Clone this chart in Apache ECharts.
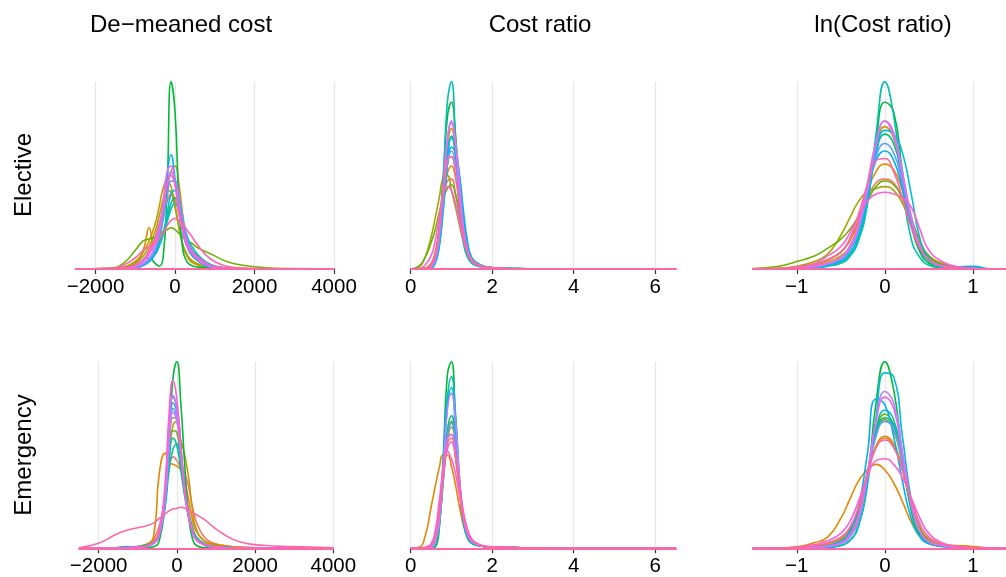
<!DOCTYPE html>
<html><head><meta charset="utf-8">
<script src="https://cdn.jsdelivr.net/npm/echarts@6/dist/echarts.min.js"></script>
<style>html,body{margin:0;padding:0;background:#fff}#c{width:1006px;height:577px}</style>
</head><body><div id="c"></div><script>
const groupNames = ['G1','G2','G3','G4','G5','G6','G7','G8','G9','G10','G11','G12','G13','G14','G15'];
const groupColors = ['#F8766D','#E58700','#C99800','#A3A500','#6BB100','#00BA38','#00BF7D','#00C0AF','#00BCD8','#00B0F6','#619CFF','#B983FF','#E76BF3','#FD61D1','#FF67A4'];
const colTitles = ['De\u2212meaned cost','Cost ratio','ln(Cost ratio)'];
const rowLabels = ['Elective','Emergency'];

const ticksDemean = [-2000, 0, 2000, 4000];
const ticksRatio = [0, 2, 4, 6];
const ticksLn = [-1, 0, 1];

const xDemeanElective = [-2500,-1600,-1300,-1000,-800,-650,-500,-400,-300,-200,-100,0,100,200,300,400,600,800,1000,1300,1700,2200,3000,4000];
const xDemeanEmergency = [-2500,-2000,-1600,-1300,-1000,-800,-600,-450,-300,-200,-100,0,100,200,300,400,500,700,900,1200,1600,2200,3000,4000];
const xRatio = [0,0.2,0.35,0.5,0.6,0.7,0.8,0.9,1.0,1.1,1.2,1.3,1.4,1.5,1.65,1.8,2.0,2.3,2.7,3.2,4,5,6.5];
const xLn = [-1.5,-1.2,-1.0,-0.8,-0.65,-0.5,-0.4,-0.3,-0.2,-0.1,0,0.1,0.2,0.3,0.4,0.5,0.65,0.8,1.0,1.2,1.37];

// relative density heights (percent of panel height), one row per group
const electiveDemean = [
 [0,0,0.5,2,5,10,17,24,30,36,40,37,29,20,14,10,5,2.5,1.2,0.4,0.1,0,0,0],
 [0,0,0.5,3,10,22,8,13,28,42,52,55,45,28,14,8,4,2,1.2,0.5,0.2,0,0,0],
 [0,0,1,4,9,15,24,33,43,47,44,34,22,12,7,4,2,1,0.5,0.2,0,0,0,0],
 [0,0,1,3,7,12,20,28,37,42,41,33,22,13,8,5,2.5,1.2,0.6,0.3,0.1,0,0,0],
 [0,0.5,3,10,15,16,17,18,20,21,22,21,19,17,15,14,11,9,7,4,2,0.8,0.2,0],
 [0,0,0,1,5,6,3,1.5,6,42,100,84,35,10,4,2,1,0.5,0.3,0.1,0,0,0,0],
 [0,0,0,1,2.5,5,9,14,19,27,35,38,33,24,16,11,6,3,1.5,0.5,0.1,0,0,0],
 [0,0,0,1,2.5,4,8,12,18,25,32,35,32,25,18,13,7,3.5,1.6,0.6,0.1,0,0,0],
 [0,0,0,0.5,2,4,8,13,19,29,40,42,36,25,15,10,5,2,0.8,0.3,0,0,0,0],
 [0,0,0,0.5,2,4,9,17,31,50,61,48,33,19,12,8,4,1.5,0.6,0.2,0.1,0,0,0],
 [0,0,0,0.5,2.5,5,10,17,26,38,47,47,39,27,17,11,5.5,2.5,1,0.4,0.1,0,0,0],
 [0,0,0,1,3,6,12,20,31,45,52,46,33,21,13,9,4.5,2,0.8,0.3,0.1,0,0,0],
 [0,0,0.5,1.5,4,8,14,22,35,52,55,45,30,19,12,9,5,2.5,1,0.3,0.1,0,0,0],
 [0,0,0.5,2,5,9,16,23,33,45,50,45,33,22,14,10,6,3,1.4,0.5,0.1,0,0,0],
 [0,0.5,2,6,10,12,14,16,19,23,26,27,26,24,21,18,12,7,4,1.5,0.5,0.2,0.1,0]
];
const emergencyDemean = [
 [0,0,0,0.3,1,2,5,12,28,42,49,47,43,40,33,22,14,6,3,1.5,0.5,0.2,0,0],
 [0,0,0,0.3,0.5,1,6,40,51,46,45,44,42,36,26,15,9,4,2.5,1.5,0.5,0.2,0.1,0],
 [0,0,0,0.3,1,2,4,9,25,48,66,68,58,50,38,20,10,4,2,1,0.5,0.2,0,0],
 [0,0,0,0.2,0.5,1.5,3,8,25,52,70,70,52,32,18,10,5,2,1,0.5,0.2,0,0,0],
 [0,0,0,0.2,0.5,1.5,3,8,24,48,63,62,48,32,19,11,6,2.5,1.2,0.6,0.2,0,0,0],
 [0,0,0,0,0,0.2,0.8,4,25,58,91,100,78,45,17,5,1.5,0.4,0.1,0,0,0,0,0],
 [0,0,0,0.5,1,1.5,3,8,26,48,59,55,42,28,17,10,5,2,1,0.5,0.2,0,0,0],
 [0,0,0.2,1,0.5,1,3,7,22,42,53,56,46,32,19,11,6,2.5,1.2,0.5,0.2,0,0,0],
 [0,0,0,0.5,0.5,1,2.5,7,26,56,78,73,52,32,18,10,5,2,1,0.4,0.1,0,0,0],
 [0,0,0,0.3,0.5,1,2.5,7,28,60,81,76,55,32,17,9,4.5,1.8,0.8,0.3,0.1,0,0,0],
 [0,0,0,0.3,0.5,1,2.5,7,26,55,75,70,52,32,18,10,5,2,1,0.4,0.1,0,0,0],
 [0,0,0,0.3,0.5,1,2.5,7,26,54,73,68,50,31,17,9,4.5,1.8,0.8,0.3,0.1,0,0,0],
 [0,0,0,0.3,0.5,1,3,8,32,66,82,74,52,31,17,9,4.5,2,0.9,0.3,0.1,0,0,0],
 [0,0,0,0.3,0.5,1,3,9,35,72,90,80,55,32,17,9,4.5,2,1,0.4,0.1,0,0,0],
 [0.3,2.7,7,9.5,11,12,13.5,16,18.5,20,21,21.5,22,21.5,20.5,19,18,15.5,12,7.5,3.5,1.6,0.9,0.3]
];
const electiveRatio = [
 [0,0,0.5,3,9,22,38,47,48,40,28,16,8,4,2,1,0.6,0.3,0.1,0,0,0,0],
 [0,0,0.3,2,8,20,38,51,55,49,35,20,10,5,2.5,1.3,0.7,0.3,0.1,0,0,0,0],
 [0,0,0.5,2,7,20,42,65,75,64,42,22,11,6,3,1.5,0.8,0.4,0.2,0.1,0,0,0],
 [0,1,6,17,27,38,49,50,42,33,23,14,8,4,2,1,0.6,0.3,0.1,0,0,0,0],
 [0,1.5,6,14,21,30,38,43,45,40,30,18,10,5,2.5,1.2,0.7,0.3,0.2,0,0,0,0],
 [0,0,0,1,5,22,50,81,89,72,40,18,8,4,2,1,0.6,0.3,0.1,0,0,0,0],
 [0,0,0,1,5,20,42,62,71,60,38,19,9,4.5,2,1,0.6,0.3,0.1,0,0,0,0],
 [0,0,0,0.5,4,20,48,89,100,68,32,13,6,3,1.5,1,0.5,0.3,0.1,0,0,0,0],
 [0,0,0,0.5,3,12,32,56,70,66,48,26,12,5,2.5,1.2,0.6,0.4,0.2,0.1,0.1,0,0],
 [0,0,0,0.5,3,12,32,55,65,62,50,30,14,6,3,1.5,0.8,0.5,0.2,0.1,0.1,0,0],
 [0,0,0,1,4,15,36,56,63,56,38,20,9,4.5,2.2,1.1,0.6,0.3,0.1,0,0,0,0],
 [0,0,0,1,5,18,42,68,79,68,45,22,10,5,2.5,1.2,0.6,0.3,0.1,0,0,0,0],
 [0,0,0,1.5,6,20,45,70,78,66,42,20,9,4.5,2.2,1.1,0.6,0.3,0.1,0,0,0,0],
 [0,0.3,2,7,15,28,40,44,42,35,25,15,8,4,2,1,0.6,0.3,0.1,0,0,0,0],
 [0,0,0.3,2,7,21,42,58,60,50,33,18,9,4.5,2.2,1.1,0.6,0.3,0.1,0,0,0,0]
];
const emergencyRatio = [
 [0,0,0.3,1,5,18,40,56,59,50,32,16,8,4,2,1.1,0.7,0.5,0.3,0.1,0,0,0],
 [0,0.5,6,22,33,43,50,50,44,34,22,12,6,3,1.5,1,0.7,0.5,0.3,0.1,0,0,0],
 [0,0,0.3,1.5,6,20,44,61,61,48,30,15,7,3.5,1.8,1,0.6,0.5,0.3,0.1,0,0,0],
 [0,0,0,0.5,3,14,38,58,65,56,34,16,7,3.5,1.8,1,0.6,0.5,0.3,0.1,0,0,0],
 [0,0,0,0.5,3,13,36,60,68,58,34,15,7,3.5,1.8,1,0.6,0.5,0.3,0.1,0,0,0],
 [0,0,0,0,0.5,10,48,93,100,68,32,13,5,2.5,1.5,1,0.6,0.5,0.3,0.1,0,0,0],
 [0,0,0,0.5,3,14,38,63,71,60,34,15,7,3.5,1.8,1,0.6,0.5,0.3,0.1,0,0,0],
 [0,0,0,0.3,2,12,42,80,92,72,35,14,6,3,1.5,1,0.6,0.5,0.3,0.1,0,0,0],
 [0,0,0,0.3,2,12,42,76,86,70,36,15,6,3,1.6,1,0.6,0.5,0.3,0.1,0,0,0],
 [0,0,0,0.5,3,16,48,80,83,62,32,14,6,3,1.5,1,0.6,0.5,0.3,0.1,0,0,0],
 [0,0,0,0.5,3,14,37,59,67,58,35,16,7,3.5,1.8,1,0.6,0.5,0.3,0.1,0,0,0],
 [0,0,0,0.5,3,14,42,74,83,68,38,16,7,3.5,1.8,1,0.6,0.5,0.3,0.1,0,0,0],
 [0,0,0.3,1.5,6,20,44,58,61,50,32,16,8,4,2,1.1,0.7,0.5,0.3,0.1,0,0,0],
 [0,0,0.5,2.5,9,25,43,52,48,40,28,16,8,4,2,1.1,0.7,0.5,0.3,0.1,0,0,0],
 [0,0,0.3,1.5,6,18,38,53,57,49,34,19,10,5,2.5,1.3,0.8,0.5,0.3,0.1,0,0,0]
];
const electiveLn = [
 [0,0.2,0.8,2.5,5,9,15,25,37,46,48,46,37,24,13,6,2.5,1,0.3,0,0],
 [0,0.2,0.8,2.5,5,9,15,26,41,52,56,53,42,27,14,7,3,1.2,0.3,0.1,0],
 [0,0.2,0.8,2,4,7,12,24,44,65,76,70,50,28,13,6,2,0.8,0.2,0,0],
 [0,0.3,1.5,4,8,18,27,36,41,43,44,42,35,24,13,6,2.5,1,0.3,0,0],
 [0.3,1.5,4,7,11,16,21,28,36,44,47,45,38,27,15,7,2.5,1,0.3,0,0],
 [0,0,0.2,0.8,2,4,8,17,36,68,89,84,52,24,9,3,1,0.4,0.1,0,0],
 [0,0,0.2,1,2,4,8,18,38,62,72,67,48,26,11,4,1.2,0.5,0.1,0,0],
 [0,0,0,0.3,1.5,3,6.6,15,34,72,100,82,44,16,6,2,0.5,0.2,0,0,0],
 [0,0,0.2,0.8,2,4,8,16,35,62,74,72,62,40,16,6,2,1,0.5,0,0],
 [0,0,0.3,1,2.5,5,10,20,40,58,63,58,43,25,11,5,1.5,1,1.5,0.1,0],
 [0,0,0.3,1,2.5,5,10,20,40,60,67,62,46,26,12,5,1.5,0.5,0.1,0,0],
 [0,0,0.3,1.5,3,6,11,22,42,66,79,73,52,28,12,5,1.5,0.6,0.2,0,0],
 [0,0,0.4,1.5,3,6,12,24,45,68,79,71,50,27,12,5,1.5,0.6,0.2,0,0],
 [0,0.2,1,3,7,12,19,28,36,40,41,40,38,33,21,10,4,1.5,0.3,0,0],
 [0,0.2,0.8,2.5,5,9,16,29,45,58,59,52,38,22,11,5,1.8,0.7,0.2,0,0]
];
const emergencyLn = [
 [0,0.1,0.4,1,2.5,5,10,20,38,54,59,55,42,24,11,5,2,0.9,0.3,0,0],
 [0,0.2,0.8,3,6,16,26,36,42,45,42,35,25,14,7,3.5,2,1.5,1,0.2,0],
 [0,0.1,0.4,1.2,2.5,5,10,21,40,55,60,56,42,23,11,4.5,1.8,0.8,0.3,0,0],
 [0,0,0.2,0.6,1.5,3.5,8,18,40,61,69,63,45,23,10,4,1.5,0.6,0.2,0,0],
 [0,0,0.2,0.6,1.5,3.5,8,18,40,63,72,66,46,23,10,4,1.5,0.6,0.2,0,0],
 [0,0,0,0.2,0.5,1.5,4,12,35,78,100,85,50,20,7,2.5,1,0.5,0.2,0,0],
 [0,0,0.1,0.4,1.2,3,7,16,38,62,70,66,47,23,9,3.5,1.5,0.6,0.2,0,0],
 [0,0,0.1,0.3,1,2.5,6,15,38,64,74,69,48,23,9,3,1.2,0.5,0.2,0,0],
 [0,0,0,0.2,0.5,1.5,4,12,33,70,94,92,60,26,9,3,1.2,0.6,0.2,0,0],
 [0,0,0.2,0.5,1.5,4,9,22,50,80,77,60,36,16,6,2.5,1,0.5,0.2,0,0],
 [0,0,0.1,0.4,1.2,3,7,16,38,60,68,64,46,23,9,3.5,1.5,0.6,0.2,0,0],
 [0,0,0.2,0.5,1,2.5,6,15,38,68,84,78,52,24,9,3.5,1.5,0.6,0.2,0,0],
 [0,0,0.2,0.5,1.2,3,7,17,40,68,81,75,50,24,9,3.5,1.5,0.6,0.2,0,0],
 [0,0.2,0.6,2,4,8,14,25,38,47,48,45,38,27,16,8,3,1.2,0.4,0,0],
 [0,0.1,0.5,1.5,3,6,11,22,40,54,58,54,42,26,13,6,2.5,1,0.3,0,0]
];

const FONT = '"Liberation Sans", Arial, Helvetica, sans-serif';
const panels = [
  {grid:{left:75, top:81.7, width:260, height:187.3}, min:-2516, max:4025, x:xDemeanElective, y:electiveDemean, ticks:ticksDemean},
  {grid:{left:410.7, top:81.7, width:266, height:187.3}, min:0, max:6.53, x:xRatio, y:electiveRatio, ticks:ticksRatio},
  {grid:{left:752.3, top:81.7, width:253.7, height:187.3}, min:-1.505, max:1.376, x:xLn, y:electiveLn, ticks:ticksLn},
  {grid:{left:78.3, top:361.7, width:255.7, height:186.6}, min:-2520, max:4017, x:xDemeanEmergency, y:emergencyDemean, ticks:ticksDemean},
  {grid:{left:410.7, top:361.7, width:266, height:186.6}, min:0, max:6.53, x:xRatio, y:emergencyRatio, ticks:ticksRatio},
  {grid:{left:752.3, top:361.7, width:253.7, height:186.6}, min:-1.505, max:1.376, x:xLn, y:emergencyLn, ticks:ticksLn}
];

const grids = [], xAxes = [], yAxes = [], series = [];
panels.forEach((p, pi) => {
  grids.push(Object.assign({containLabel:false, outerBoundsMode:'none'}, p.grid));
  xAxes.push({
    type:'value', gridIndex:pi, min:p.min, max:p.max,
    axisLine:{show:false},
    axisTick:{show:true, length:5, customValues:p.ticks, lineStyle:{color:'#333', width:1.2}},
    axisLabel:{customValues:p.ticks, fontSize:20.5, color:'#000', margin:8, fontFamily:FONT,
      formatter: v => String(v).replace('-', '\u2212')},
    splitLine:{show:true, lineStyle:{color:'#E8E8E8', width:1.4}}
  });
  yAxes.push({type:'value', gridIndex:pi, min:0, max:100, show:false, splitLine:{show:false}});
  p.y.forEach((vals, gi) => {
    const s = {
      type:'line', name:groupNames[gi], xAxisIndex:pi, yAxisIndex:pi,
      data: p.x.map((xv, i) => [xv, vals[i]]),
      smooth:true, showSymbol:false, symbol:'none', silent:true, animation:false,
      lineStyle:{width:1.6, color:groupColors[gi]}, itemStyle:{color:groupColors[gi]}
    };
    if (gi === p.y.length - 1) {
      s.markLine = {silent:true, symbol:['none','none'], label:{show:false}, animation:false,
        lineStyle:{color:groupColors[gi], width:2, type:'solid'}, data:[{yAxis:0}]};
    }
    series.push(s);
  });
});

const titleX = [181, 540, 883];
const rowY = [175, 455];
const graphics = [];
colTitles.forEach((t, i) => graphics.push({type:'text', x:titleX[i], y:25,
  style:{text:t, fill:'#000', font:'24px ' + FONT, textAlign:'center', textVerticalAlign:'middle'}}));
rowLabels.forEach((t, i) => graphics.push({type:'text', x:24, y:rowY[i], rotation:Math.PI/2,
  style:{text:t, fill:'#000', font:'24px ' + FONT, textAlign:'center', textVerticalAlign:'middle'}}));

const chart = echarts.init(document.getElementById('c'), null, {renderer:'canvas'});
chart.setOption({
  animation:false, backgroundColor:'#fff',
  grid:grids, xAxis:xAxes, yAxis:yAxes, series:series, graphic:graphics
});
</script></body></html>
